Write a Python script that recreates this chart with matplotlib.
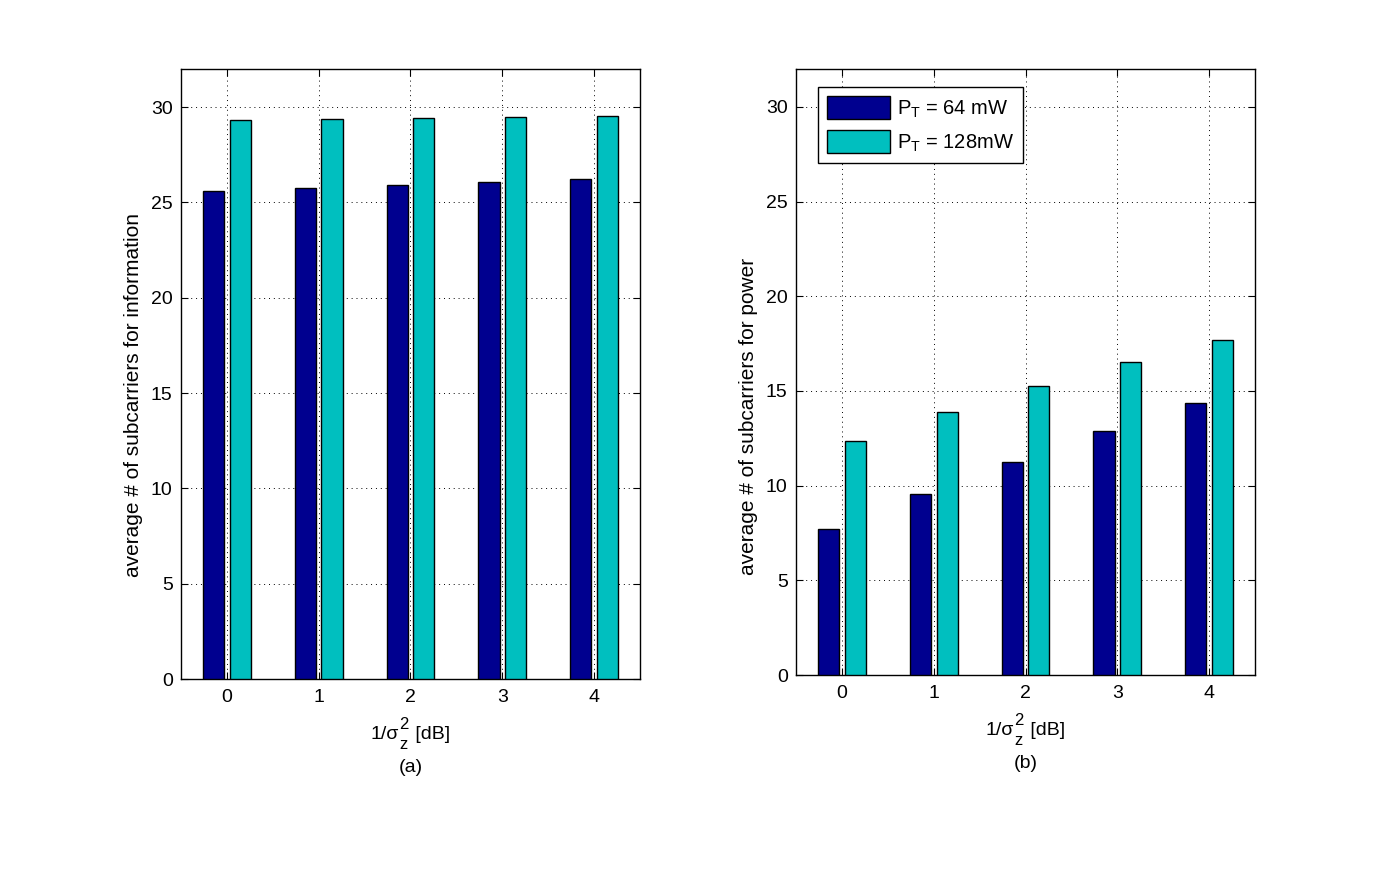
import numpy as np
import matplotlib.pyplot as plt
from matplotlib.transforms import IdentityTransform

plt.rcParams['font.family'] = ['Liberation Sans', 'DejaVu Sans']
plt.rcParams['mathtext.fontset'] = 'custom'
plt.rcParams['mathtext.rm'] = 'Liberation Sans'
plt.rcParams['mathtext.it'] = 'Liberation Sans'
plt.rcParams['mathtext.default'] = 'regular'

snr_db = [0, 1, 2, 3, 4]
info_64 = [25.61, 25.77, 25.92, 26.09, 26.22]
info_128 = [29.31, 29.37, 29.43, 29.48, 29.52]
power_64 = [7.71, 9.56, 11.27, 12.90, 14.38]
power_128 = [12.35, 13.87, 15.25, 16.53, 17.68]
labels = ['P$_T$ = 64 mW', 'P$_T$ = 128mW']
dark = '#00008f'
cyan = '#00bfbf'

fs = 14
fig = plt.figure(figsize=(13.73, 8.71), dpi=100)
ax1 = fig.add_axes([0.1318, 0.2204, 0.3343, 0.7003])
ax2 = fig.add_axes([0.5798, 0.2250, 0.3343, 0.6958])
renderer = fig.canvas.get_renderer()


def xlabel_pieces(cx, base, tag):
    # 1/sigma_z^2 [dB] put together from pieces, scripts near full size
    t1 = fig.text(0, base, '1/σ', fontsize=fs, transform=IdentityTransform(), va='baseline')
    sup = fig.text(0, base + 10, '2', fontsize=12, transform=IdentityTransform(), va='baseline')
    sub = fig.text(0, base - 10, 'z', fontsize=12, transform=IdentityTransform(), va='baseline')
    t2 = fig.text(0, base, ' [dB]', fontsize=fs, transform=IdentityTransform(), va='baseline')
    w1 = t1.get_window_extent(renderer).width
    ws = max(sup.get_window_extent(renderer).width, sub.get_window_extent(renderer).width)
    w2 = t2.get_window_extent(renderer).width
    x0 = cx - (w1 + ws + w2 + 2) / 2
    t1.set_x(x0)
    sup.set_x(x0 + w1)
    sub.set_x(x0 + w1)
    t2.set_x(x0 + w1 + ws + 2)
    fig.text(cx, base - 33, tag, fontsize=fs, transform=IdentityTransform(),
             ha='center', va='baseline')


def draw(ax, a, b, ylabel, ylab_y, tag, legend=False):
    x = np.array(snr_db)
    w = 0.23
    off = 0.145
    ax.bar(x - off, a, w, color=dark, edgecolor='black', linewidth=1, label=labels[0], zorder=3)
    ax.bar(x + off, b, w, color=cyan, edgecolor='black', linewidth=1, label=labels[1], zorder=3)
    ax.set_xlim(-0.5, 4.5)
    ax.set_ylim(0, 32)
    ax.set_xticks(x)
    ax.set_yticks(range(0, 31, 5))
    ax.grid(True, linestyle=(0, (1, 4)), color='black', linewidth=0.7)
    ax.set_axisbelow(True)
    ax.tick_params(direction='in', top=True, right=True, labelsize=fs, length=5)
    ax.tick_params(axis='x', pad=7)
    ax.tick_params(axis='y', pad=6)
    for s in ax.spines.values():
        s.set_linewidth(1)
    ax.set_ylabel(ylabel, fontsize=15)
    ax.yaxis.set_label_coords(-0.082, ylab_y)
    bb = ax.get_window_extent(renderer)
    xlabel_pieces((bb.x0 + bb.x1) / 2, bb.y0 - 60, tag)
    if legend:
        ax.legend(loc='upper left', bbox_to_anchor=(0.048, 0.97), fontsize=14.5,
                  fancybox=False, edgecolor='black', framealpha=1,
                  handlelength=3.1, handleheight=1.4, borderpad=0.45,
                  labelspacing=0.5, handletextpad=0.35, borderaxespad=0)


draw(ax1, info_64, info_128, 'average # of subcarriers for information', 0.466, '(a)')
draw(ax2, power_64, power_128, 'average # of subcarriers for power', 0.427, '(b)', legend=True)

fig.savefig('out.png', dpi=100)
